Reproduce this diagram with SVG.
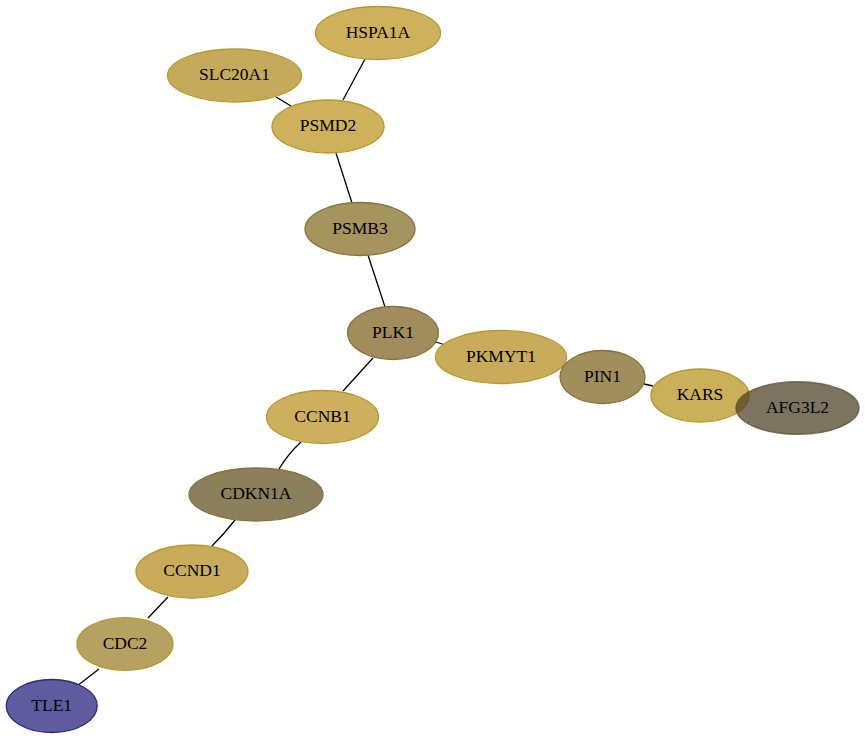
<svg xmlns="http://www.w3.org/2000/svg" width="865" height="740" viewBox="0 0 865 740">
<style>
.e{stroke:#000;stroke-width:1.3;fill:none}
.n ellipse{stroke-width:1.3}
.n text{font-family:"Liberation Serif","Times New Roman",serif;font-size:17.5px;fill:#000;text-anchor:middle}
.g ellipse{stroke:#b8982e}
.b ellipse{stroke:#85733a}
</style>
<rect width="865" height="740" fill="#fff"/>
<g id="edges">
<line class="e" x1="365" y1="59" x2="343" y2="100"/>
<line class="e" x1="276" y1="97" x2="291" y2="106"/>
<line class="e" x1="336" y1="153" x2="352" y2="203"/>
<line class="e" x1="368" y1="255" x2="385" y2="307"/>
<line class="e" x1="436" y1="342" x2="445" y2="345"/>
<line class="e" x1="373" y1="358" x2="343" y2="391"/>
<path class="e" d="M301,442 Q288,454 279,469"/>
<path class="e" d="M235,520 Q224,534 212,546"/>
<line class="e" x1="168" y1="597" x2="148" y2="618"/>
<line class="e" x1="99" y1="669" x2="77" y2="686"/>
<line class="e" x1="560" y1="365" x2="566" y2="368"/>
<line class="e" x1="644" y1="384" x2="653" y2="386"/>
</g>
<g id="HSPA1A" class="n g"><ellipse cx="378" cy="33" rx="62.5" ry="26.5" fill="#ceb25b"/><text x="378" y="37.5">HSPA1A</text></g>
<g id="SLC20A1" class="n g"><ellipse cx="234.5" cy="75.5" rx="67" ry="26.5" fill="#c6aa5c"/><text x="234.5" y="80">SLC20A1</text></g>
<g id="PSMD2" class="n g"><ellipse cx="328" cy="126.5" rx="56" ry="26.5" fill="#cdb15b"/><text x="328" y="131">PSMD2</text></g>
<g id="PSMB3" class="n b"><ellipse cx="360" cy="229" rx="55" ry="26.5" fill="#a6945e"/><text x="360" y="233.5">PSMB3</text></g>
<g id="PLK1" class="n b"><ellipse cx="393" cy="333" rx="45.5" ry="26.5" fill="#a08c5c"/><text x="393" y="337.5">PLK1</text></g>
<g id="PKMYT1" class="n g"><ellipse cx="501" cy="357" rx="65.5" ry="26.5" fill="#c8ac5c"/><text x="501" y="361.5">PKMYT1</text></g>
<g id="PIN1" class="n b"><ellipse cx="602.5" cy="377" rx="42.5" ry="26.5" fill="#a08e5d"/><text x="602.5" y="381.5">PIN1</text></g>
<g id="KARS" class="n g"><ellipse cx="700" cy="395.5" rx="49" ry="26.5" fill="#cbb05c"/><text x="700" y="400">KARS</text></g>
<g id="AFG3L2" class="n"><ellipse cx="797.5" cy="408" rx="61.5" ry="26.3" fill="#4a3e22" fill-opacity="0.72" stroke="#5a4e2a" stroke-opacity="0.8"/><text x="797.5" y="412.5">AFG3L2</text></g>
<g id="CCNB1" class="n g"><ellipse cx="322.5" cy="417" rx="56" ry="26.5" fill="#ccb05d"/><text x="322.5" y="421.5">CCNB1</text></g>
<g id="CDKN1A" class="n b"><ellipse cx="256" cy="494.5" rx="67" ry="26.5" fill="#8b7f5c" stroke="#75683c"/><text x="256" y="499">CDKN1A</text></g>
<g id="CCND1" class="n g"><ellipse cx="192" cy="571.5" rx="56" ry="26.5" fill="#c8ac5c"/><text x="192" y="576">CCND1</text></g>
<g id="CDC2" class="n g"><ellipse cx="125" cy="644" rx="48" ry="26.3" fill="#b5a262" stroke="#a88e3a"/><text x="125" y="648.5">CDC2</text></g>
<g id="TLE1" class="n"><ellipse cx="51.7" cy="706" rx="45.5" ry="26.5" fill="#5e5c9e" stroke="#2e2a7a"/><text x="51.7" y="710.5">TLE1</text></g>
</svg>
